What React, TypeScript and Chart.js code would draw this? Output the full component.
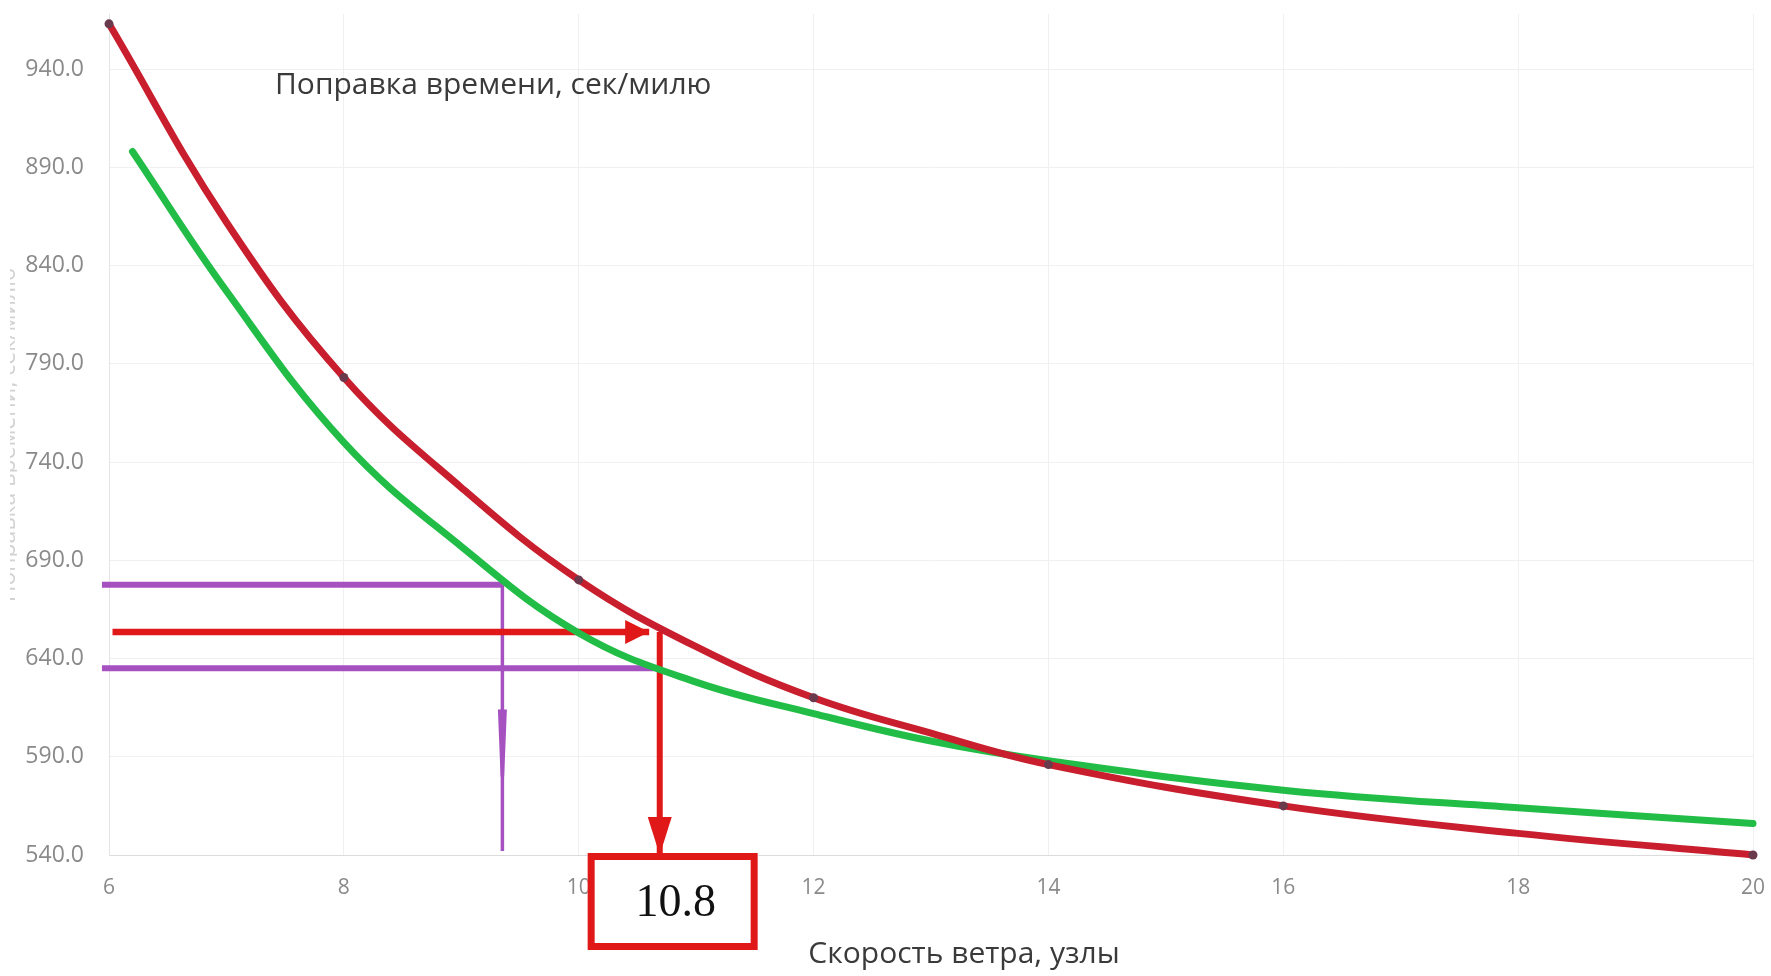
import { useEffect, useRef } from "react";
import { Chart, registerables, type ChartData, type ChartOptions, type Plugin } from "chart.js";

Chart.register(...registerables);

// axes
const xTicks = [6, 8, 10, 12, 14, 16, 18, 20];
const yTicks = [540, 590, 640, 690, 740, 790, 840, 890, 940];

// red curve (with dots at the measured speeds)
const redX = [6, 7, 8, 9, 10, 11, 12, 13, 14, 16, 18, 20];
const redY = [963, 862, 783, 727, 680, 646, 620, 602, 586, 565, 551, 540];
const redMarkedX = [6, 8, 10, 12, 14, 16, 20];

// green curve
const greenX = [6.2, 7, 8, 9, 10, 11, 12, 13, 14, 16, 18, 20];
const greenY = [898, 827, 750, 697, 653, 628, 612, 598, 588, 573, 564, 556];

// reading lines
const purpleUpperX = [5.94, 9.35];
const purpleUpperY = [677.5, 677.5];
const purpleDropX = [9.35, 9.35];
const purpleDropY = [677.5, 542];
const purpleMarkY = [614, 580];
const purpleLowerX = [5.94, 10.66];
const purpleLowerY = [635, 635];
const redArrowX = [6.03, 10.6];
const redArrowY = [653.5, 653.5];
const redDropX = [10.69, 10.69];
const redDropY = [653.5, 540];
const answerX = 10.8;
const answerLabel = "10.8";

const chartTitle = "Поправка времени, сек/милю";
const xTitle = "Скорость ветра, узлы";

const RED = "#c81e2d";
const GREEN = "#22bd46";
const PURPLE = "#a651c0";
const ARROW = "#e01818";

const pts = (xs: number[], ys: number[]) => xs.map((x, i) => ({ x, y: ys[i] }));

const overlay: Plugin<"line"> = {
  id: "overlay",
  afterDatasetsDraw(chart) {
    const { ctx, chartArea } = chart;
    const x = chart.scales.x;
    const y = chart.scales.y;
    ctx.save();

    // purple spindle on the drop line
    const px = x.getPixelForValue(purpleDropX[0]);
    const m1 = y.getPixelForValue(purpleMarkY[0]);
    const m2 = y.getPixelForValue(purpleMarkY[1]);
    ctx.fillStyle = PURPLE;
    ctx.beginPath();
    ctx.moveTo(px - 4.5, m1);
    ctx.lineTo(px + 4.5, m1);
    ctx.lineTo(px + 1.8, m2);
    ctx.lineTo(px - 1.8, m2);
    ctx.closePath();
    ctx.fill();

    // answer box
    const bx = x.getPixelForValue(answerX);
    const by = y.getPixelForValue(540) - 2;
    const bw = 170;
    const bh = 97;
    ctx.fillStyle = "#fff";
    ctx.fillRect(bx - bw / 2, by, bw, bh);
    ctx.lineWidth = 7;
    ctx.strokeStyle = ARROW;
    ctx.strokeRect(bx - bw / 2 + 3.5, by + 3.5, bw - 7, bh - 7);
    ctx.fillStyle = "#111";
    ctx.font = "46px 'Liberation Serif', serif";
    ctx.textAlign = "center";
    ctx.textBaseline = "middle";
    ctx.fillText(answerLabel, bx + 3, by + 51);

    // arrow heads
    ctx.fillStyle = ARROW;
    const hx = x.getPixelForValue(redArrowX[1]);
    const hy = y.getPixelForValue(redArrowY[1]);
    ctx.beginPath();
    ctx.moveTo(hx, hy);
    ctx.lineTo(hx - 24, hy - 12);
    ctx.lineTo(hx - 24, hy + 12);
    ctx.closePath();
    ctx.fill();
    const vx = x.getPixelForValue(redDropX[1]);
    const vy = y.getPixelForValue(redDropY[1]);
    ctx.beginPath();
    ctx.moveTo(vx, vy);
    ctx.lineTo(vx - 12, vy - 38);
    ctx.lineTo(vx + 12, vy - 38);
    ctx.closePath();
    ctx.fill();

    // texts
    ctx.fillStyle = "#3a3a3a";
    ctx.font = "30px 'Open Sans', sans-serif";
    ctx.textAlign = "left";
    ctx.fillText(chartTitle, chartArea.left + 166, 85);
    ctx.textAlign = "center";
    ctx.fillText(xTitle, chartArea.left + 855, 954);

    // y title, cut off at the left edge
    ctx.beginPath();
    ctx.rect(10, 0, 7, chart.height);
    ctx.clip();
    ctx.translate(15, 435);
    ctx.rotate(-Math.PI / 2);
    ctx.fillStyle = "#d2d2d2";
    ctx.font = "23px 'Open Sans', sans-serif";
    ctx.textBaseline = "alphabetic";
    ctx.fillText(chartTitle, 0, 0);
    ctx.restore();
  },
};

export default function App() {
  const canvasRef = useRef<HTMLCanvasElement | null>(null);

  useEffect(() => {
    document.body.style.margin = "0";
    if (!canvasRef.current) return;

    const line = (xs: number[], ys: number[], color: string, width: number, order: number) => ({
      data: pts(xs, ys),
      borderColor: color,
      borderWidth: width,
      pointRadius: 0,
      borderCapStyle: "butt" as const,
      clip: false as const,
      order,
    });

    const data: ChartData<"line", { x: number; y: number }[]> = {
      datasets: [
        {
          data: pts(redX, redY),
          borderColor: RED,
          borderWidth: 7,
          tension: 0.4,
          pointRadius: (c: any) => (redMarkedX.includes(redX[c.dataIndex]) ? 4.5 : 0),
          pointBackgroundColor: "#6a3a4c",
          pointBorderWidth: 0,
          borderCapStyle: "round",
          clip: false,
          order: 0,
        },
        {
          data: pts(greenX, greenY),
          borderColor: GREEN,
          borderWidth: 7,
          tension: 0.4,
          pointRadius: 0,
          borderCapStyle: "round",
          clip: false,
          order: 1,
        },
        line(redArrowX, redArrowY, ARROW, 6.5, 2),
        line(redDropX, redDropY, ARROW, 6, 2),
        line(purpleUpperX, purpleUpperY, PURPLE, 6, 3),
        line(purpleLowerX, purpleLowerY, PURPLE, 6, 3),
        line(purpleDropX, purpleDropY, PURPLE, 3.5, 3),
      ],
    };

    const options: ChartOptions<"line"> = {
      responsive: true,
      maintainAspectRatio: false,
      animation: false,
      layout: { padding: { left: 0, right: 18, top: 14, bottom: 0 } },
      plugins: { legend: { display: false }, tooltip: { enabled: false } },
      scales: {
        x: {
          type: "linear",
          min: 6,
          max: 20,
          afterBuildTicks: (s) => {
            s.ticks = xTicks.map((value) => ({ value }));
          },
          afterFit: (s) => {
            s.height = 121;
            s.paddingLeft = 0;
            s.paddingRight = 0;
          },
          grid: { color: "#f0f0f0", drawTicks: false },
          border: { color: "#dcdcdc" },
          ticks: {
            padding: 20,
            color: "#8a8a8a",
            font: { family: "'Open Sans', sans-serif", size: 21 },
            callback: (v) => String(v),
          },
        },
        y: {
          type: "linear",
          min: 540,
          max: 968,
          afterBuildTicks: (s) => {
            s.ticks = yTicks.map((value) => ({ value }));
          },
          afterFit: (s) => {
            s.width = 109;
            s.paddingTop = 0;
            s.paddingBottom = 0;
          },
          grid: { color: "#f0f0f0", drawTicks: false },
          border: { color: "#e4e4e4" },
          ticks: {
            padding: 25,
            color: "#8a8a8a",
            font: { family: "'Open Sans', sans-serif", size: 23 },
            callback: (v) => Number(v).toFixed(1),
          },
        },
      },
    };

    const chart = new Chart(canvasRef.current, { type: "line", data, options, plugins: [overlay] });
    return () => chart.destroy();
  }, []);

  return (
    <div style={{ width: 1771, height: 976, background: "#fff" }}>
      <canvas ref={canvasRef} />
    </div>
  );
}
